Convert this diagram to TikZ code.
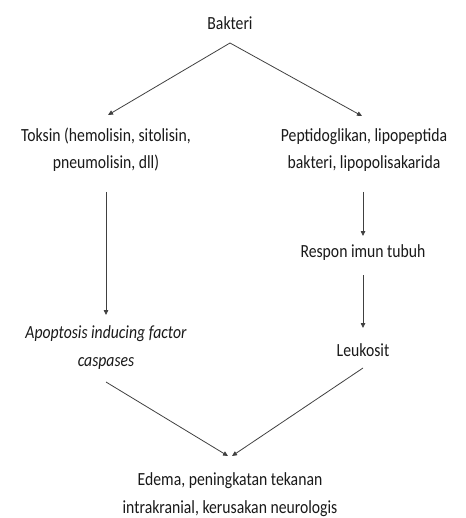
\documentclass[tikz,border=0pt]{standalone}
\usepackage{fontspec}
\setmainfont{Carlito}
\usetikzlibrary{arrows.meta,calc}
\tikzset{
  lbl/.style={anchor=base, align=center, inner sep=0pt, text=black!90,
    yscale=1.18, font=\fontsize{15.7}{23}\selectfont},
  arr/.style={draw=black!75, line width=0.8pt,
    -{Triangle[length=5pt,width=4.5pt]}}
}
\begin{document}
\begin{tikzpicture}[x=1pt,y=-1pt]
\useasboundingbox (0,0) rectangle (465,518);
% base anchor of a multi-line node = baseline of its last line
\node[lbl] (bak) at (230,30) {Bakteri};
\node[lbl] (tok) at (106,169) {Toksin (hemolisin, sitolisin,\\pneumolisin, dll)};
\node[lbl] (pep) at (364,169) {Peptidoglikan, lipopeptida\\bakteri, lipopolisakarida};
\node[lbl] (res) at (363,257) {Respon imun tubuh};
\node[lbl] (apo) at (106,366) {\itshape Apoptosis inducing factor\\\itshape caspases};
\node[lbl] (leu) at (363,356) {Leukosit};
\node[lbl] (ede) at (230,513) {Edema, peningkatan tekanan\\intrakranial, kerusakan neurologis};

\draw[arr] ($(bak.base)+(0,13)$) -- ($(tok.base)+(2,-54)$);
\draw[arr] ($(bak.base)+(0,13)$) -- ($(pep.base)+(-2,-53)$);
\draw[arr] ($(tok.base)+(0,23)$) -- ($(apo.base)+(0,-51)$);
\draw[arr] ($(pep.base)+(-1,23)$) -- ($(res.base)+(0,-21)$);
\draw[arr] ($(res.base)+(0,18)$) -- ($(leu.base)+(0,-28)$);
\draw[arr] ($(apo.base)+(0,16)$) -- ($(ede.base)+(-2,-57)$);
\draw[arr] ($(leu.base)+(0,12)$) -- ($(ede.base)+(2,-57)$);
\end{tikzpicture}
\end{document}
